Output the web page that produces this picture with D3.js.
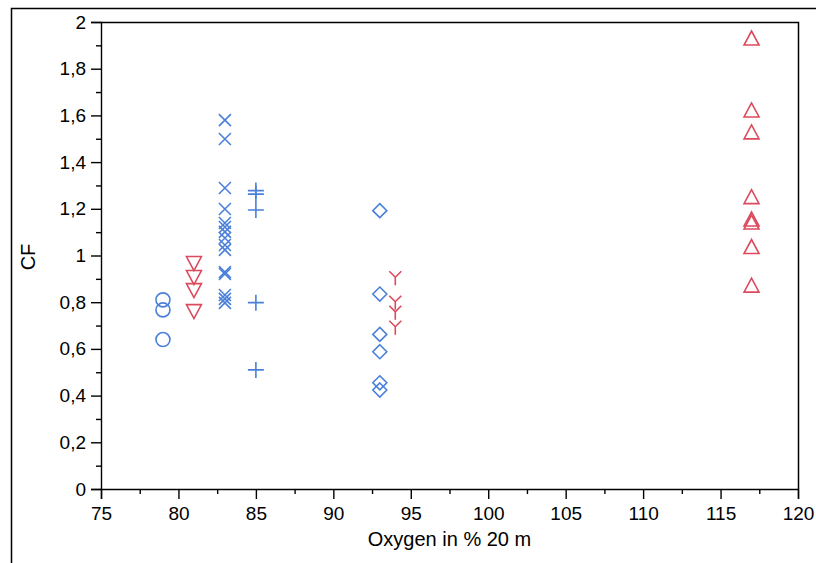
<!DOCTYPE html>
<html>
<head>
<meta charset="utf-8">
<script src="https://cdn.jsdelivr.net/npm/d3@7"></script>
<style>
	body { margin: 0; background: #fff; }
	text { font-family: "Liberation Sans", Arial, sans-serif; }
</style>
</head>
<body>
<div id="vis"></div>
<script>
// CF values per oxygen level, one series per marker type
const circleX = 79, circleY = [0.81, 0.767, 0.64];
const triDownX = 81, triDownY = [0.97, 0.91, 0.854, 0.764];
const crossX = 83, crossY = [1.58, 1.499, 1.289, 1.199, 1.139, 1.122, 1.101, 1.075, 1.045, 1.024, 0.929, 0.921, 0.831, 0.814, 0.797];
const plusX = 85, plusY = [1.278, 1.263, 1.195, 0.798, 0.51];
const diamondX = 93, diamondY = [1.192, 0.835, 0.662, 0.588, 0.455, 0.424];
const yMarkX = 94, yMarkY = [0.907, 0.802, 0.759, 0.695];
const triUpX = 117, triUpY = [1.927, 1.619, 1.525, 1.248, 1.152, 1.139, 1.034, 0.869];

const xTicks = [75, 80, 85, 90, 95, 100, 105, 110, 115, 120];
const yTicks = [0, 0.2, 0.4, 0.6, 0.8, 1, 1.2, 1.4, 1.6, 1.8, 2];

const BLUE = "#4a80d9";
const RED = "#db4a5e";

const draw = () => {
	const W = 816, H = 563;
	const svg = d3.select("#vis").append("svg")
		.attr("width", W)
		.attr("height", H);

	const left = 101, right = 798, top = 22, bottom = 489;
	const x = d3.scaleLinear().domain([75, 120]).range([left, right]);
	const y = d3.scaleLinear().domain([0, 2]).range([bottom, top]);

	// outer frame (top + left only)
	svg.append("path")
		.attr("d", `M11.5,${H} L11.5,8.5 L${W},8.5`)
		.attr("fill", "none")
		.attr("stroke", "#000")
		.attr("stroke-width", 1.5);

	// plot box top + right
	svg.append("path")
		.attr("d", `M${left},${top + 0.5} L${right + 0.5},${top + 0.5} L${right + 0.5},${bottom}`)
		.attr("fill", "none")
		.attr("stroke", "#000")
		.attr("stroke-width", 1.5);

	const fmt = d => String(d).replace(".", ",");

	// minor ticks
	const yMinor = d3.range(0.1, 2, 0.2);
	const xMinor = d3.range(77.5, 120, 5);

	const gy = svg.append("g").attr("transform", `translate(${left},0)`);
	gy.call(d3.axisLeft(y).tickValues(yTicks).tickFormat(fmt).tickSize(10).tickPadding(5));
	gy.append("g").call(d3.axisLeft(y).tickValues(yMinor).tickFormat("").tickSize(5))
		.select(".domain").remove();

	const gx = svg.append("g").attr("transform", `translate(0,${bottom})`);
	gx.call(d3.axisBottom(x).tickValues(xTicks).tickSize(10).tickPadding(8));
	gx.append("g").call(d3.axisBottom(x).tickValues(xMinor).tickFormat("").tickSize(5))
		.select(".domain").remove();

	svg.selectAll("g").attr("font-size", null).attr("font-family", null);
	svg.selectAll(".tick text")
		.style("font-size", "19px")
		.attr("fill", "#000");
	svg.selectAll(".domain, .tick line").attr("stroke", "#000").attr("stroke-width", 1.4);

	// axis titles
	svg.append("text")
		.attr("x", (left + right) / 2)
		.attr("y", 546)
		.attr("text-anchor", "middle")
		.style("font-size", "20px")
		.text("Oxygen in % 20 m");
	svg.append("text")
		.attr("transform", "translate(35,257) rotate(-90)")
		.attr("text-anchor", "middle")
		.style("font-size", "20px")
		.text("CF");

	const marks = svg.append("g")
		.attr("fill", "none")
		.attr("stroke-width", 1.6);

	const addSeries = (xv, ys, color, pathFn) => {
		marks.append("g").selectAll("path")
			.data(ys)
			.join("path")
			.attr("transform", d => `translate(${x(xv)},${y(d)})`)
			.attr("d", pathFn)
			.attr("stroke", color)
			.attr("fill", "none");
	};

	const circlePath = () => "M7,0 A7,7 0 1,1 -7,0 A7,7 0 1,1 7,0 Z";
	const triDownPath = () => "M-7.5,-6 L7.5,-6 L0,8 Z";
	const triUpPath = () => "M-7.5,6 L7.5,6 L0,-8 Z";
	const crossPath = () => "M-6,-6 L6,6 M-6,6 L6,-6";
	const plusPath = () => "M-8,0 L8,0 M0,-8 L0,8";
	const diamondPath = () => "M0,-7 L7,0 L0,7 L-7,0 Z";
	const yPath = () => "M-6,-6 L0,0 L6,-6 M0,0 L0,8";

	addSeries(circleX, circleY, BLUE, circlePath);
	addSeries(triDownX, triDownY, RED, triDownPath);
	addSeries(crossX, crossY, BLUE, crossPath);
	addSeries(plusX, plusY, BLUE, plusPath);
	addSeries(diamondX, diamondY, BLUE, diamondPath);
	addSeries(yMarkX, yMarkY, RED, yPath);
	addSeries(triUpX, triUpY, RED, triUpPath);
};

draw();
</script>
</body>
</html>
